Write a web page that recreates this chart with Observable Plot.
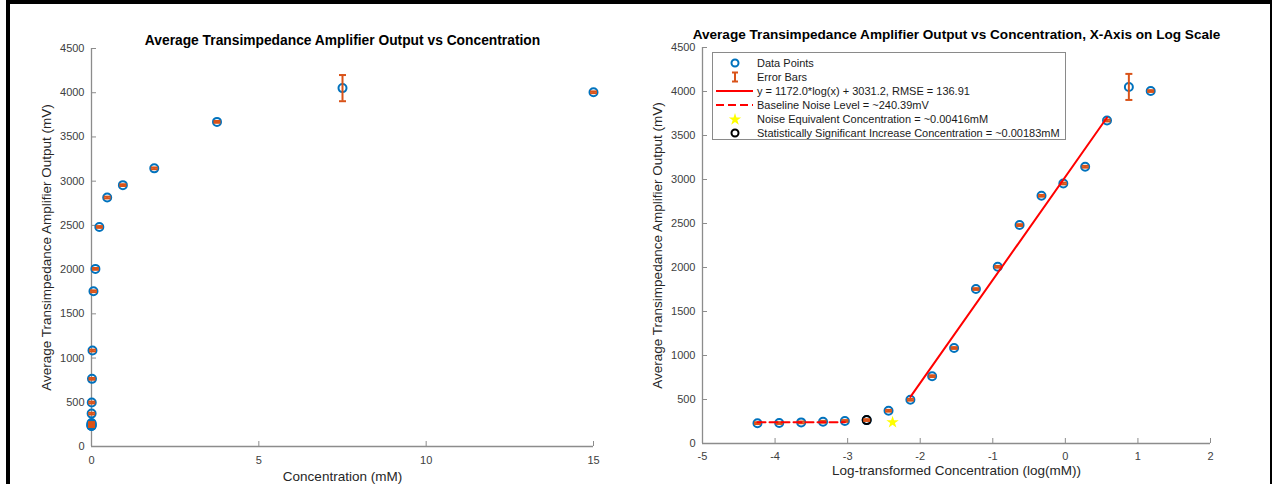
<!DOCTYPE html>
<html>
<head>
<meta charset="utf-8">
<script src="https://cdn.jsdelivr.net/npm/d3@7"></script>
<script src="https://cdn.jsdelivr.net/npm/@observablehq/plot@0.6"></script>
<style>
  body { margin: 0; background: #fff; font-family: "Liberation Sans", Arial, Helvetica, sans-serif; }
  #wrap { position: relative; width: 1275px; height: 484px; overflow: hidden; background: #fff; }
  #left, #right { position: absolute; top: 0; }
  #left { left: 0; }
  #right { left: 640px; }
  #frame { position: absolute; left: 6px; top: 0; width: 1266px; height: 484px; box-sizing: border-box;
           border-left: 4px solid #000; border-top: 4px solid #000; border-right: 2px solid #000; pointer-events: none; }
  #legend { position: absolute; left: 712px; top: 52px; width: 354px; height: 88px; box-sizing: border-box;
            border: 1px solid #8a8a8a; background: #fff; font-size: 11px; color: #1a1a1a; }
  .row { position: absolute; left: 0; height: 14px; display: flex; align-items: center; white-space: nowrap; }
  .row svg { margin-left: 2px; }
  .row span { margin-left: 2px; }
</style>
</head>
<body>
<div id="wrap">
  <div id="left"></div>
  <div id="right"></div>
  <div id="legend"></div>
  <div id="frame"></div>
</div>
<script>
// ---- data ----
const concentration = [15, 7.5, 3.75, 1.875, 0.9375, 0.469, 0.234, 0.117, 0.0586, 0.0293, 0.0146, 0.00732, 0.00366, 0.00183, 0.000916, 0.000458, 0.000229, 0.000114, 0.0000572];
const outputMV      = [4005, 4052, 3670, 3145, 2955, 2815, 2482, 2008, 1755, 1085, 765, 497, 372, 266, 256, 247, 240, 232, 231];
const errorMV       = [10, 148, 10, 10, 10, 10, 10, 10, 10, 10, 10, 10, 10, 10, 10, 10, 10, 10, 10];
const yTicks        = [0, 500, 1000, 1500, 2000, 2500, 3000, 3500, 4000, 4500];
const leftXTicks    = [0, 5, 10, 15];
const rightXTicks   = [-5, -4, -3, -2, -1, 0, 1, 2];
const fitLogX       = [-2.135, 0.574];
const fitY          = [529, 3704];
const baselineLogX  = [-4.242, -3.038];
const baselineY     = [240.39, 240.39];
const noiseEqConc   = [0.00416];
const noiseEqY      = [240.39];
const sigConc       = [0.00183];
const sigY          = [266];
const leftTitle  = "Average Transimpedance Amplifier Output vs Concentration";
const rightTitle = "Average Transimpedance Amplifier Output vs Concentration, X-Axis on Log Scale";
const yLabel     = "Average Transimpedance Amplifier Output (mV)";
const leftXLabel = "Concentration (mM)";
const rightXLabel = "Log-transformed Concentration (log(mM))";
const legendLabels = [
  "Data Points",
  "Error Bars",
  "y = 1172.0*log(x) + 3031.2, RMSE = 136.91",
  "Baseline Noise Level = ~240.39mV",
  "Noise Equivalent Concentration = ~0.00416mM",
  "Statistically Significant Increase Concentration = ~0.00183mM"
];

const FONT = '"Liberation Sans", Arial, Helvetica, sans-serif';
const BLUE = "#0072BD", ORANGE = "#D95319", RED = "#FF0000", AXIS = "#8c8c8c";

const rows = concentration.map((c, i) => ({
  c, lc: Math.log10(c), v: outputMV[i], lo: outputMV[i] - errorMV[i], hi: outputMV[i] + errorMV[i]
}));
const fitRows = fitLogX.map((x, i) => ({x, y: fitY[i]}));
const baseRows = baselineLogX.map((x, i) => ({x, y: baselineY[i]}));
const noiseRows = noiseEqConc.map((c, i) => ({x: Math.log10(c), y: noiseEqY[i]}));
const sigRows = sigConc.map((c, i) => ({x: Math.log10(c), y: sigY[i]}));

const capSymbol = {
  draw(ctx, size) {
    const w = Math.sqrt(size / Math.PI);
    ctx.moveTo(-w, 0);
    ctx.lineTo(w, 0);
  }
};
const fmt = d => String(d);

function errorMarks(xKey) {
  return [
    Plot.ruleX(rows, {x: xKey, y1: "lo", y2: "hi", stroke: ORANGE, strokeWidth: 2}),
    Plot.dot(rows, {x: xKey, y: "lo", symbol: capSymbol, r: 3.5, stroke: ORANGE, strokeWidth: 2}),
    Plot.dot(rows, {x: xKey, y: "hi", symbol: capSymbol, r: 3.5, stroke: ORANGE, strokeWidth: 2})
  ];
}

function axisMarks(xTicks, xPad, titleText, titleDy, titleSize, xLabelText, xLabelDy, yLabelDx) {
  return [
    Plot.ruleY([yTicks[0]], {stroke: AXIS, strokeWidth: 1.3}),
    Plot.ruleX([xTicks[0]], {stroke: AXIS, strokeWidth: 1.3}),
    Plot.axisX(xTicks, {tickSize: -5, tickPadding: xPad, stroke: AXIS, fill: "#404040", label: null, fontSize: 11, tickFormat: fmt}),
    Plot.axisY(yTicks, {tickSize: -5, tickPadding: 12, stroke: AXIS, fill: "#404040", label: null, fontSize: 11, tickFormat: fmt}),
    Plot.text([titleText], {frameAnchor: "top", dy: titleDy, fontWeight: "bold", fontSize: titleSize, fill: "#000"}),
    Plot.text([xLabelText], {frameAnchor: "bottom", dy: xLabelDy, fontSize: 13.5, fill: "#262626"}),
    Plot.text([yLabel], {frameAnchor: "left", textAnchor: "middle", dx: yLabelDx, rotate: -90, fontSize: 13.5, fill: "#262626"})
  ];
}

const left = Plot.plot({
  width: 640, height: 484,
  marginLeft: 91, marginRight: 47, marginTop: 48, marginBottom: 38,
  style: {fontFamily: FONT, background: "transparent", overflow: "visible"},
  x: {domain: [0, 15]},
  y: {domain: [0, 4500]},
  marks: [
    ...axisMarks(leftXTicks, 15, leftTitle, -13, 13.8, leftXLabel, 34, -45),
    Plot.dot(rows, {x: "c", y: "v", r: 4, stroke: BLUE, strokeWidth: 2, fill: "none"}),
    ...errorMarks("c")
  ]
});
document.getElementById("left").appendChild(left);

const right = Plot.plot({
  width: 635, height: 484,
  marginLeft: 62, marginRight: 65, marginTop: 47, marginBottom: 41,
  style: {fontFamily: FONT, background: "transparent", overflow: "visible"},
  x: {domain: [-5, 2]},
  y: {domain: [0, 4500]},
  marks: [
    ...axisMarks(rightXTicks, 14, rightTitle, -18, 13.6, rightXLabel, 31, -45),
    Plot.dot(rows, {x: "lc", y: "v", r: 4, stroke: BLUE, strokeWidth: 2, fill: "none"}),
    Plot.dot(sigRows, {x: "x", y: "y", r: 4, stroke: "#000", strokeWidth: 2, fill: "none"}),
    ...errorMarks("lc"),
    Plot.line(fitRows, {x: "x", y: "y", stroke: RED, strokeWidth: 2}),
    Plot.line(baseRows, {x: "x", y: "y", stroke: RED, strokeWidth: 2, strokeDasharray: "8,4"}),
    Plot.dot(noiseRows, {x: "x", y: "y", symbol: "star", r: 3.9, fill: "#FFFF00", stroke: null})
  ]
});
document.getElementById("right").appendChild(right);

// ---- legend ----
const starPath = d3.symbol(d3.symbolStar, 47)();
const symbols = [
  '<circle cx="20" cy="7" r="3.5" fill="none" stroke="' + BLUE + '" stroke-width="2"/>',
  '<path d="M20,2.5V11.5M17,2.5H23M17,11.5H23" fill="none" stroke="' + ORANGE + '" stroke-width="2"/>',
  '<line x1="1" y1="7" x2="38" y2="7" stroke="' + RED + '" stroke-width="2"/>',
  '<line x1="1" y1="7" x2="38" y2="7" stroke="' + RED + '" stroke-width="2" stroke-dasharray="8,4"/>',
  '<path transform="translate(20,7.5)" d="' + starPath + '" fill="#FFFF00"/>',
  '<circle cx="20" cy="7" r="3.5" fill="none" stroke="#000" stroke-width="2"/>'
];
const legend = document.getElementById("legend");
legendLabels.forEach((lab, i) => {
  const row = document.createElement("div");
  row.className = "row";
  row.style.top = (2.5 + i * 14) + "px";
  row.innerHTML = '<svg width="40" height="14">' + symbols[i] + '</svg><span>' + lab + '</span>';
  legend.appendChild(row);
});
</script>
</body>
</html>
